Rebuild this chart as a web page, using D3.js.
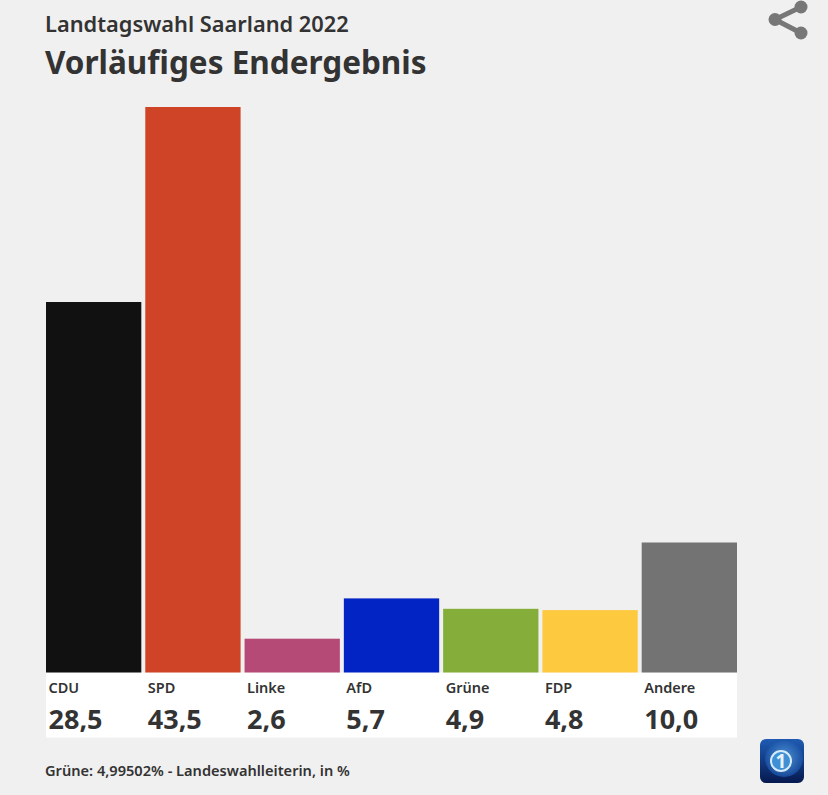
<!DOCTYPE html>
<html lang="de">
<head>
<meta charset="utf-8">
<title>Landtagswahl Saarland 2022</title>
<script src="https://cdn.jsdelivr.net/npm/d3@7"></script>
<style>
html,body{margin:0;padding:0;background:#f0f0f0;}
svg{display:block;}
text{font-family:"Noto Sans","Open Sans",sans-serif;fill:#333;}
</style>
</head>
<body>
<svg id="chart" width="828" height="795"></svg>
<script>
const parties = ["CDU","SPD","Linke","AfD","Grüne","FDP","Andere"];
const shares = [28.5,43.5,2.6,5.7,4.9,4.8,10.0];
const shareLabels = ["28,5","43,5","2,6","5,7","4,9","4,8","10,0"];
const colours = ["#111111","#cf4327","#b54a77","#0324c4","#84ad39","#fdc93f","#737373"];
const heading = "Landtagswahl Saarland 2022";
const subheading = "Vorläufiges Endergebnis";
const footnote = "Grüne: 4,99502% - Landeswahlleiterin, in %";

const svg = d3.select("#chart");
const x = d3.scaleBand().domain(parties).range([46,737]).paddingInner(0.04).paddingOuter(0);
const y = d3.scaleLinear().domain([0,43.5]).range([672.5,107]);

svg.append("text").attr("x",45).attr("y",32).attr("font-size",21.8).attr("font-weight",600).text(heading);
svg.append("text").attr("x",45).attr("y",74).attr("font-size",31.5).attr("font-weight",700).text(subheading);

// White strip carrying party names and results
svg.append("rect").attr("x",46).attr("y",672.5).attr("width",691).attr("height",65).attr("fill","#ffffff");

svg.selectAll("rect.bar").data(parties).join("rect").attr("class","bar")
  .attr("x",d=>x(d)).attr("width",x.bandwidth())
  .attr("y",(d,i)=>y(shares[i])).attr("height",(d,i)=>y(0)-y(shares[i]))
  .attr("fill",(d,i)=>colours[i]);

svg.selectAll("text.party").data(parties).join("text").attr("class","party")
  .attr("x",d=>x(d)+2.5).attr("y",693).attr("font-size",14.5).attr("font-weight",600).text(d=>d);

svg.selectAll("text.share").data(parties).join("text").attr("class","share")
  .attr("x",d=>x(d)+2.5).attr("y",729).attr("font-size",27).attr("font-weight",700).text((d,i)=>shareLabels[i]);

svg.append("text").attr("x",45).attr("y",776).attr("font-size",14.6).attr("font-weight",600).text(footnote);

// Share icon
const share = svg.append("g").attr("fill","#777").attr("stroke","#777");
const nodes = [[801,7],[775,19.5],[801,33]];
share.append("path").attr("fill","none").attr("stroke-width",5)
  .attr("d",d3.line()([nodes[0],nodes[1],nodes[2]]));
share.selectAll("circle").data(nodes).join("circle")
  .attr("cx",d=>d[0]).attr("cy",d=>d[1]).attr("r",6.5).attr("stroke","none");

// Broadcaster badge
const defs = svg.append("defs");
const grad = defs.append("linearGradient").attr("id","badge").attr("x1",0).attr("y1",0).attr("x2",0).attr("y2",1);
grad.append("stop").attr("offset",0).attr("stop-color","#1f5cb4");
grad.append("stop").attr("offset",1).attr("stop-color","#06194f");
const globe = defs.append("radialGradient").attr("id","globe");
globe.append("stop").attr("offset",0).attr("stop-color","#5ea8e2");
globe.append("stop").attr("offset",1).attr("stop-color","#1a52a8");
const badge = svg.append("g");
badge.append("rect").attr("x",760).attr("y",739).attr("width",44).attr("height",44).attr("rx",6).attr("fill","url(#badge)");
badge.append("circle").attr("cx",784).attr("cy",758).attr("r",19).attr("fill","url(#globe)").attr("opacity",0.8);
badge.append("circle").attr("cx",781).attr("cy",761).attr("r",10).attr("fill","#3f8fd6").attr("stroke","#d6ebf8").attr("stroke-width",2);
badge.append("text").attr("x",781).attr("y",768).attr("text-anchor","middle").attr("font-size",19).attr("font-weight",700).style("fill","#e6f3fb").text("1");
</script>
</body>
</html>
